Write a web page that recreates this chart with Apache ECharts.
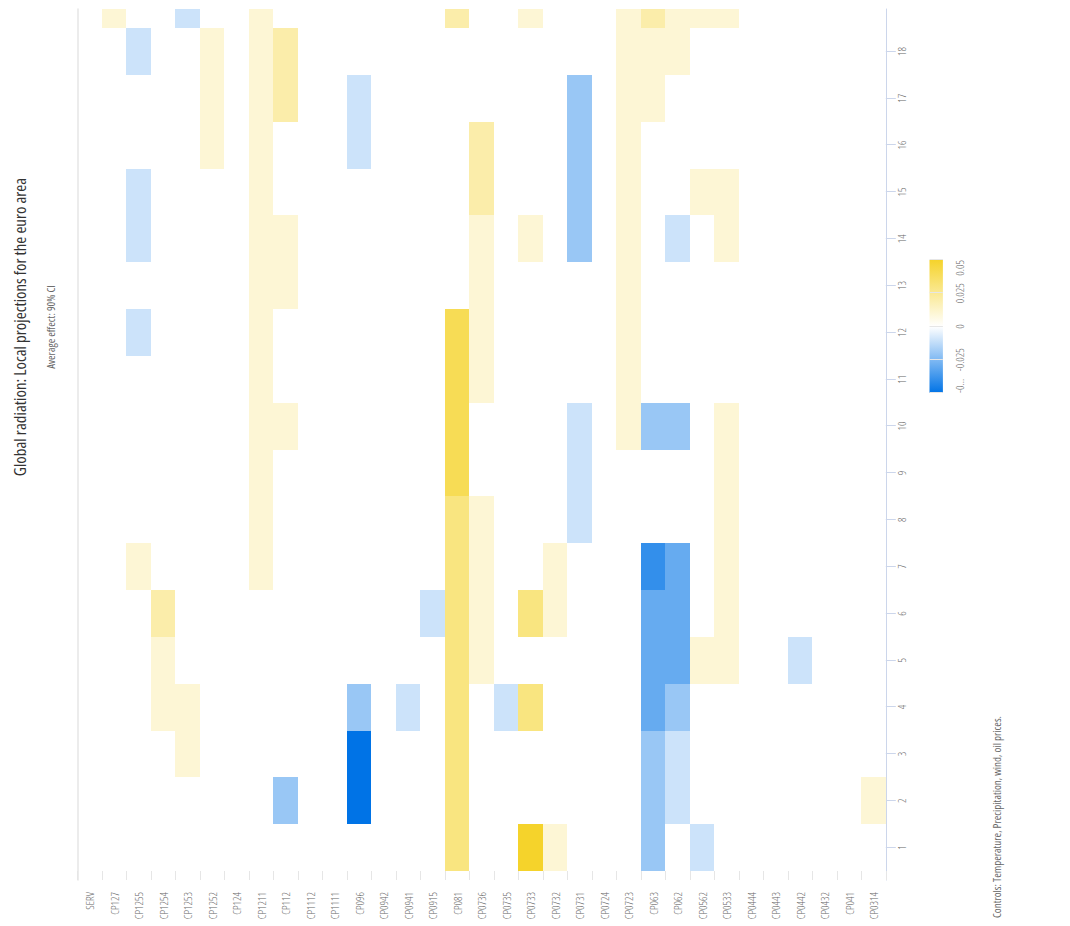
<!DOCTYPE html>
<html>
<head>
<meta charset="utf-8">
<script src="https://cdn.jsdelivr.net/npm/echarts@6/dist/echarts.min.js"></script>
<style>
html, body { margin: 0; padding: 0; width: 1070px; height: 926px; overflow: hidden; background: #ffffff; }
#wrap { position: absolute; left: 72px; top: -72px; width: 926px; height: 1070px; transform: rotate(-90deg); transform-origin: 50% 50%; }
#wrap svg text { font-stretch: 75% !important; }
</style>
</head>
<body>
<div id="wrap"></div>
<script>
// ---------- data ----------
const titleText = 'Global radiation: Local projections for the euro area';
const subtitleText = 'Average effect: 90% CI';
const footnoteText = 'Controls: Temperature, Precipitation, wind, oil prices.';

const categories = ['SERV','CP127','CP1255','CP1254','CP1253','CP1252','CP124','CP1211','CP112','CP1112','CP1111',
  'CP096','CP0942','CP0941','CP0915','CP081','CP0736','CP0735','CP0733','CP0732','CP0731','CP0724','CP0723',
  'CP063','CP062','CP0562','CP0533','CP0444','CP0443','CP0442','CP0432','CP041','CP0314'];

// horizons of the cells (19th one is only partly visible at the top edge)
const horizons = [1,2,3,4,5,6,7,8,9,10,11,12,13,14,15,16,17,18,19];
// tick labels of the horizon axis
const horizonTicks = [1,2,3,4,5,6,7,8,9,10,11,12,13,14,15,16,17,18];

// average effect per category, for horizons 1..19 (0 = not significant / blank)
const values = [
  /* SERV   */ [0,0,0,0,0,0,0,0,0,0,0,0,0,0,0,0,0,0,0],
  /* CP127  */ [0,0,0,0,0,0,0,0,0,0,0,0,0,0,0,0,0,0,0.01],
  /* CP1255 */ [0,0,0,0,0,0,0.01,0,0,0,0,-0.01,0,-0.01,-0.01,0,0,-0.01,0],
  /* CP1254 */ [0,0,0,0.01,0.01,0.02,0,0,0,0,0,0,0,0,0,0,0,0,0],
  /* CP1253 */ [0,0,0.01,0.01,0,0,0,0,0,0,0,0,0,0,0,0,0,0,-0.01],
  /* CP1252 */ [0,0,0,0,0,0,0,0,0,0,0,0,0,0,0,0.01,0.01,0.01,0],
  /* CP124  */ [0,0,0,0,0,0,0,0,0,0,0,0,0,0,0,0,0,0,0],
  /* CP1211 */ [0,0,0,0,0,0,0.01,0.01,0.01,0.01,0.01,0.01,0.01,0.01,0.01,0.01,0.01,0.01,0.01],
  /* CP112  */ [0,-0.02,0,0,0,0,0,0,0,0.01,0,0,0.01,0.01,0,0,0.02,0.02,0],
  /* CP1112 */ [0,0,0,0,0,0,0,0,0,0,0,0,0,0,0,0,0,0,0],
  /* CP1111 */ [0,0,0,0,0,0,0,0,0,0,0,0,0,0,0,0,0,0,0],
  /* CP096  */ [0,-0.05,-0.05,-0.02,0,0,0,0,0,0,0,0,0,0,0,-0.01,-0.01,0,0],
  /* CP0942 */ [0,0,0,0,0,0,0,0,0,0,0,0,0,0,0,0,0,0,0],
  /* CP0941 */ [0,0,0,-0.01,0,0,0,0,0,0,0,0,0,0,0,0,0,0,0],
  /* CP0915 */ [0,0,0,0,0,-0.01,0,0,0,0,0,0,0,0,0,0,0,0,0],
  /* CP081  */ [0.03,0.03,0.03,0.03,0.03,0.03,0.03,0.03,0.04,0.04,0.04,0.04,0,0,0,0,0,0,0.02],
  /* CP0736 */ [0,0,0,0,0.01,0.01,0.01,0.01,0,0,0.01,0.01,0.01,0.01,0.02,0.02,0,0,0],
  /* CP0735 */ [0,0,0,-0.01,0,0,0,0,0,0,0,0,0,0,0,0,0,0,0],
  /* CP0733 */ [0.05,0,0,0.03,0,0.03,0,0,0,0,0,0,0,0.01,0,0,0,0,0.01],
  /* CP0732 */ [0.01,0,0,0,0,0.01,0.01,0,0,0,0,0,0,0,0,0,0,0,0],
  /* CP0731 */ [0,0,0,0,0,0,0,-0.01,-0.01,-0.01,0,0,0,-0.02,-0.02,-0.02,-0.02,0,0],
  /* CP0724 */ [0,0,0,0,0,0,0,0,0,0,0,0,0,0,0,0,0,0,0],
  /* CP0723 */ [0,0,0,0,0,0,0,0,0,0.01,0.01,0.01,0.01,0.01,0.01,0.01,0.01,0.01,0.01],
  /* CP063  */ [-0.02,-0.02,-0.02,-0.03,-0.03,-0.03,-0.04,0,0,-0.02,0,0,0,0,0,0,0.01,0.01,0.02],
  /* CP062  */ [0,-0.01,-0.01,-0.02,-0.03,-0.03,-0.03,0,0,-0.02,0,0,0,-0.01,0,0,0,0.01,0.01],
  /* CP0562 */ [-0.01,0,0,0,0.01,0,0,0,0,0,0,0,0,0,0.01,0,0,0,0.01],
  /* CP0533 */ [0,0,0,0,0.01,0.01,0.01,0.01,0.01,0.01,0,0,0,0.01,0.01,0,0,0,0.01],
  /* CP0444 */ [0,0,0,0,0,0,0,0,0,0,0,0,0,0,0,0,0,0,0],
  /* CP0443 */ [0,0,0,0,0,0,0,0,0,0,0,0,0,0,0,0,0,0,0],
  /* CP0442 */ [0,0,0,0,-0.01,0,0,0,0,0,0,0,0,0,0,0,0,0,0],
  /* CP0432 */ [0,0,0,0,0,0,0,0,0,0,0,0,0,0,0,0,0,0,0],
  /* CP041  */ [0,0,0,0,0,0,0,0,0,0,0,0,0,0,0,0,0,0,0],
  /* CP0314 */ [0,0.01,0,0,0,0,0,0,0,0,0,0,0,0,0,0,0,0,0]
];

// colour scale and its legend ticks
const colorRange = [-0.05, 0.05];
const colorStops = ['#0073e6', '#ffffff', '#f5d32b'];
const legendInnerTicks = [-0.025, 0, 0.025];
const legendEndLabels = ['-0…', '0.05'];

// ---------- chart ----------
const FONT = "'Open Sans',sans-serif";

const cells = [];
values.forEach(function (row, ci) {
  row.forEach(function (v, hi) {
    if (v !== 0) cells.push([horizons[hi], ci, v]);
  });
});

const chart = echarts.init(document.getElementById('wrap'), null, { renderer: 'svg', width: 926, height: 1070 });

function legendAxis(extra) {
  return Object.assign({
    gridIndex: 1, type: 'value', position: 'bottom', min: colorRange[0], max: colorRange[1],
    axisLine: { show: false }, axisTick: { show: false }, splitLine: { show: false }
  }, extra);
}
function labelStyle(extra) {
  return Object.assign({ color: '#666666', fontSize: 11, fontWeight: 300, fontFamily: FONT }, extra);
}

const option = {
  animation: false,
  backgroundColor: '#ffffff',
  textStyle: { fontFamily: FONT },
  title: [
    {
      text: titleText,
      subtext: subtitleText,
      left: 594, top: 6, textAlign: 'center',
      itemGap: 17,
      textStyle: { fontFamily: FONT, fontSize: 16.8, fontWeight: 'normal', color: '#333333' },
      subtextStyle: { fontFamily: FONT, fontSize: 11, color: '#666666' }
    },
    {
      text: footnoteText,
      left: 3, top: 986,
      textStyle: { fontFamily: FONT, fontSize: 11, fontWeight: 'normal', color: '#666666' }
    }
  ],
  grid: [
    { left: 46, right: 9, top: 77.3, bottom: 184.2, containLabel: false, outerBoundsMode: 'none' },
    { left: 533, top: 929.5, width: 133, height: 13.4, containLabel: false, outerBoundsMode: 'none' }
  ],
  xAxis: [
    {
      gridIndex: 0, type: 'value', position: 'bottom', min: 0.3078, max: 18.906,
      splitLine: { show: false },
      axisLine: { show: true, lineStyle: { color: '#ccd6eb', width: 1 } },
      axisTick: { show: true, length: 10, lineStyle: { color: '#ccd6eb' }, customValues: horizonTicks },
      axisLabel: labelStyle({ customValues: horizonTicks, margin: 10,
        formatter: function (v) { return String(v); } })
    },
    {
      gridIndex: 0, type: 'value', position: 'top', min: 0.3078, max: 18.906,
      splitLine: { show: false },
      axisLine: { show: true, lineStyle: { color: '#e6e6e6', width: 1.5 } },
      axisTick: { show: false },
      axisLabel: { show: false }
    },
    // legend: grid lines + inner labels
    legendAxis({
      interval: 0.025, z: 10,
      splitLine: { show: true, lineStyle: { color: '#e6e6e6', width: 1 } },
      axisLabel: labelStyle({ customValues: legendInnerTicks, margin: 11,
        formatter: function (v) { return String(v); } })
    }),
    // legend: min label
    legendAxis({
      axisLabel: labelStyle({ customValues: [colorRange[0]], align: 'left', margin: 11,
        formatter: function () { return legendEndLabels[0]; } })
    }),
    // legend: max label
    legendAxis({
      axisLabel: labelStyle({ customValues: [colorRange[1]], align: 'right', margin: 11,
        formatter: function () { return legendEndLabels[1]; } })
    })
  ],
  yAxis: [
    {
      gridIndex: 0, type: 'category', data: categories, inverse: true,
      axisLine: { show: false },
      axisTick: { show: true, inside: true, length: 9, interval: 0, lineStyle: { color: '#e6e6e6' } },
      axisLabel: labelStyle({ interval: 0, margin: 12 }),
      splitLine: { show: false }
    },
    { gridIndex: 1, type: 'value', min: 0, max: 1, show: false }
  ],
  visualMap: {
    type: 'continuous', show: false, seriesIndex: 0, dimension: 2,
    min: colorRange[0], max: colorRange[1],
    inRange: { color: colorStops }
  },
  series: [
    {
      type: 'custom', name: 'effect', xAxisIndex: 0, yAxisIndex: 0,
      encode: { x: 0, y: 1 },
      data: cells,
      silent: true,
      renderItem: function (params, api) {
        const h = api.value(0), c = api.value(1);
        const p0 = api.coord([h - 0.5, c]);
        const p1 = api.coord([h + 0.5, c]);
        const bh = api.size([0, 1])[1];
        const cs = params.coordSys;
        const r = echarts.graphic.clipRectByRect(
          { x: p0[0], y: p0[1] - bh / 2, width: p1[0] - p0[0], height: bh },
          { x: cs.x, y: cs.y, width: cs.width, height: cs.height }
        );
        if (!r) return;
        const x0 = Math.round(r.x), x1 = Math.round(r.x + r.width);
        const y0 = Math.round(r.y), y1 = Math.round(r.y + r.height);
        return { type: 'rect', shape: { x: x0, y: y0, width: x1 - x0, height: y1 - y0 }, style: { fill: api.visual('color') } };
      }
    },
    {
      type: 'custom', name: 'legend', xAxisIndex: 2, yAxisIndex: 1,
      data: [[colorRange[0], colorRange[1]]],
      silent: true,
      renderItem: function (params, api) {
        const a = api.coord([api.value(0), 0]);
        const b = api.coord([api.value(1), 1]);
        return {
          type: 'rect',
          shape: { x: a[0], y: b[1], width: b[0] - a[0], height: a[1] - b[1] },
          style: {
            fill: new echarts.graphic.LinearGradient(0, 0, 1, 0, [
              { offset: 0, color: colorStops[0] },
              { offset: 0.5, color: colorStops[1] },
              { offset: 1, color: colorStops[2] }
            ])
          }
        };
      }
    }
  ]
};

chart.setOption(option);
</script>
</body>
</html>
